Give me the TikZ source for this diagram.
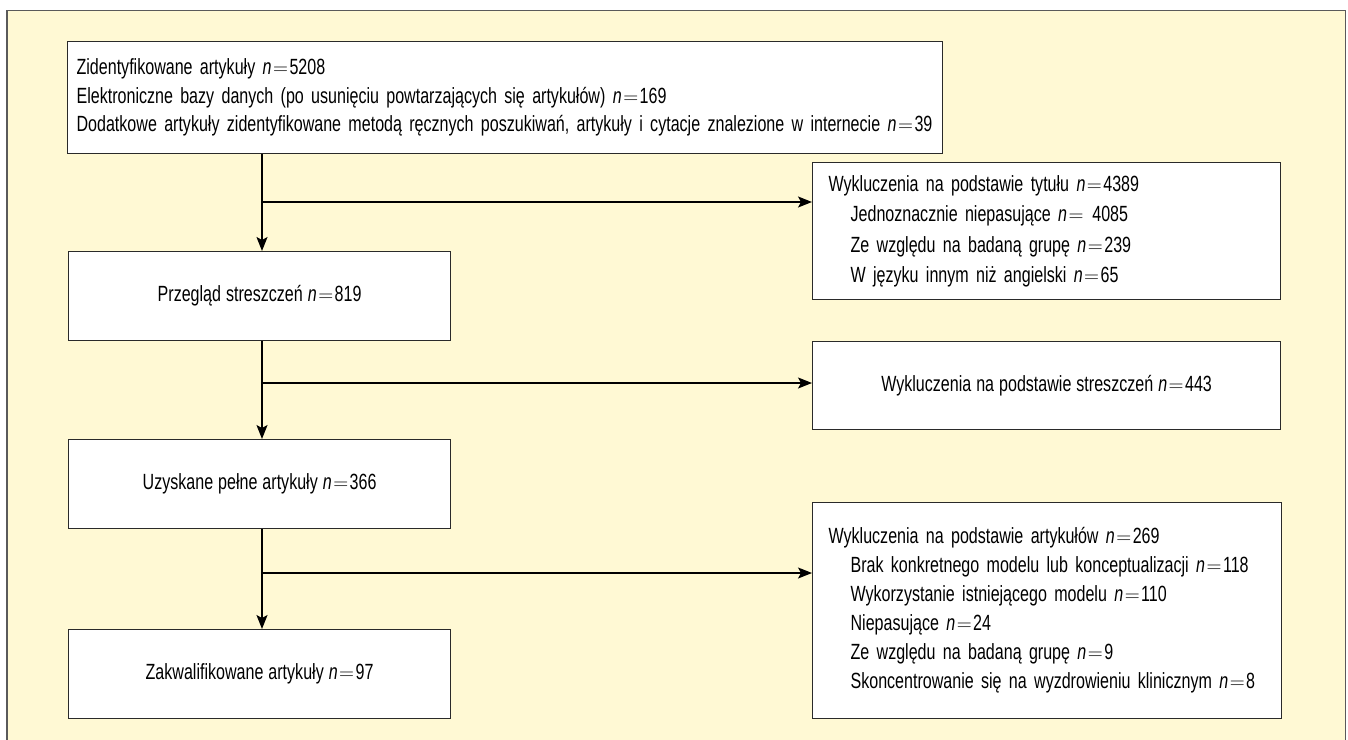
\documentclass[tikz,border=0pt]{standalone}
\usepackage{fontspec}
\setmainfont{Liberation Sans}[FakeStretch=0.73]
\usetikzlibrary{arrows.meta}
\definecolor{bgyellow}{HTML}{FFF9D4}
\definecolor{framegray}{HTML}{5A5A5A}
\definecolor{boxline}{HTML}{2A2A2A}
\newcommand{\nn}{\textit{n}\kern1.5pt$=$\kern1.5pt}
\newcommand{\ind}{\hspace*{22pt}}
\newcommand{\wsp}{\spaceskip=5pt plus 1pt minus 1pt\relax}
\begin{document}
\begin{tikzpicture}[x=1pt,y=-1pt,
  box/.style={draw=boxline, line width=1.2pt, fill=white, inner xsep=9pt, inner ysep=0pt, anchor=north west},
  conn/.style={line width=1.3pt, draw=black, -{Stealth[length=14pt,width=11pt,inset=3pt]}},
  txt/.style={font=\fontsize{22}{28.5}\selectfont\wsp}
]
\useasboundingbox (0,0) rectangle (1348,739);
\fill[bgyellow] (7,10.5) rectangle (1345.5,745);
\draw[framegray, line width=1.5pt] (7,745) -- (7,10.5) -- (1345.5,10.5) -- (1345.5,745);

% left column
\node[box, txt, minimum width=875pt, minimum height=112pt, text width=857pt, align=left] (b1) at (67,41)
 {\mbox{Zidentyfikowane artykuły \nn5208}\\
  \mbox{Elektroniczne bazy danych (po usunięciu powtarzających się artykułów) \nn169}\\
  \mbox{Dodatkowe artykuły zidentyfikowane metodą ręcznych poszukiwań, artykuły i cytacje znalezione w internecie \nn39}};
\node[box, txt, minimum width=382pt, minimum height=89pt] (b2) at (68,251) {Przegląd streszczeń \nn819};
\node[box, txt, minimum width=382pt, minimum height=89pt] (b3) at (68,439) {Uzyskane pełne artykuły \nn366};
\node[box, txt, minimum width=382pt, minimum height=89pt] (b4) at (68,629) {Zakwalifikowane artykuły \nn97};

% right column
\node[box, font=\fontsize{22}{30.5}\selectfont\wsp, inner xsep=16pt, minimum width=468pt, minimum height=137pt, text width=436pt, align=left] (r1) at (812,162)
 {\mbox{Wykluczenia na podstawie tytułu \nn4389}\\
  \ind\mbox{Jednoznacznie niepasujące \nn\ 4085}\\
  \ind\mbox{Ze względu na badaną grupę \nn239}\\
  \ind\mbox{W języku innym niż angielski \nn65}};
\node[box, txt, minimum width=468pt, minimum height=88pt] (r2) at (812,341) {Wykluczenia na podstawie streszczeń \nn443};
\node[box, font=\fontsize{22}{29}\selectfont\wsp, inner xsep=16pt, minimum width=469pt, minimum height=216pt, text width=437pt, align=left] (r3) at (812,502)
 {\mbox{Wykluczenia na podstawie artykułów \nn269}\\
  \ind\mbox{Brak konkretnego modelu lub konceptualizacji \nn118}\\
  \ind\mbox{Wykorzystanie istniejącego modelu \nn110}\\
  \ind\mbox{Niepasujące \nn24}\\
  \ind\mbox{Ze względu na badaną grupę \nn9}\\
  \ind\mbox{Skoncentrowanie się na wyzdrowieniu klinicznym \nn8}};

% junctions
\coordinate (j1) at (262,202);
\coordinate (j2) at (262,383);
\coordinate (j3) at (262,573);

\draw[conn] (b1.south -| j1) -- (b2.north -| j1);
\draw[conn] (b2.south -| j2) -- (b3.north -| j2);
\draw[conn] (b3.south -| j3) -- (b4.north -| j3);
\draw[conn] (j1) -- (r1.west |- j1);
\draw[conn] (j2) -- (r2.west |- j2);
\draw[conn] (j3) -- (r3.west |- j3);
\end{tikzpicture}
\end{document}
